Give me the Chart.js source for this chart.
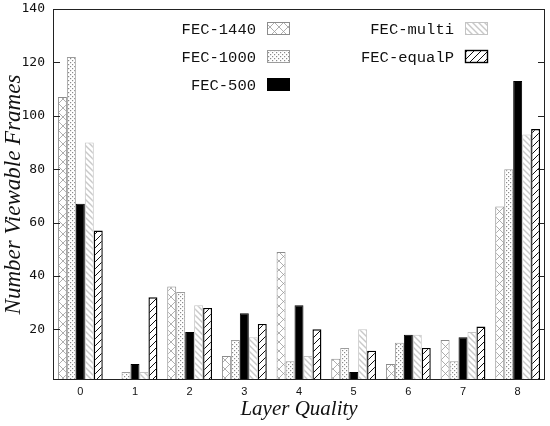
<!DOCTYPE html>
<html>
<head>
<meta charset="utf-8">
<script src="https://cdn.jsdelivr.net/npm/chart.js@4/dist/chart.umd.min.js"></script>
<style>
  html, body { margin: 0; padding: 0; background: #fff; }
  #wrap { width: 550px; height: 426px; position: relative; }
</style>
</head>
<body>
<div id="wrap"><canvas id="grafico"></canvas></div>
<script>
// dados
const categorias = ['0', '1', '2', '3', '4', '5', '6', '7', '8'];
const series = ['FEC-1440', 'FEC-1000', 'FEC-500', 'FEC-multi', 'FEC-equalP'];
const fec1440 = [107, 0, 36, 10, 49, 9, 7, 16, 66];
const fec1000 = [122, 4, 34, 16, 8, 13, 15, 8, 80];
const fec500 = [67, 7, 19, 26, 29, 4, 18, 17, 113];
const fecMulti = [90, 4, 29, 17, 10, 20, 18, 19, 93];
const fecEqualP = [57, 32, 28, 22, 20, 12, 13, 21, 95];
const yTicks = [20, 40, 60, 80, 100, 120, 140];

function padrao(tam, desenhar) {
  const c = document.createElement('canvas');
  c.width = c.height = tam;
  const g = c.getContext('2d');
  g.fillStyle = '#fff';
  g.fillRect(0, 0, tam, tam);
  desenhar(g, tam);
  return g.createPattern(c, 'repeat');
}

const pCruzado = padrao(9, (g, t) => {
  g.strokeStyle = '#9a9a9a'; g.lineWidth = 0.8;
  g.beginPath();
  g.moveTo(0, 0); g.lineTo(t, t);
  g.moveTo(t, 0); g.lineTo(0, t);
  g.stroke();
});
const pPontos = padrao(4, (g) => {
  g.fillStyle = '#8a8a8a';
  g.fillRect(0, 0, 1.2, 1.2);
  g.fillRect(2, 2, 1.2, 1.2);
});
const pContra = padrao(6, (g, t) => {
  g.strokeStyle = '#c8c8c8'; g.lineWidth = 1.4;
  g.beginPath();
  g.moveTo(0, 0); g.lineTo(t, t);
  g.moveTo(-1, t - 1); g.lineTo(1, t + 1);
  g.moveTo(t - 1, -1); g.lineTo(t + 1, 1);
  g.stroke();
});
const pBarra = padrao(7, (g, t) => {
  g.strokeStyle = '#111'; g.lineWidth = 1;
  g.beginPath();
  g.moveTo(0, t); g.lineTo(t, 0);
  g.moveTo(-1, 1); g.lineTo(1, -1);
  g.moveTo(t - 1, t + 1); g.lineTo(t + 1, t - 1);
  g.stroke();
});

const estilos = [
  { bg: pCruzado, borda: '#8c8c8c', larg: 1 },
  { bg: pPontos, borda: '#9c9c9c', larg: 1 },
  { bg: '#000', borda: '#000', larg: 1 },
  { bg: pContra, borda: '#c4c4c4', larg: 1 },
  { bg: pBarra, borda: '#000', larg: 1.4 }
];
const valores = [fec1440, fec1000, fec500, fecMulti, fecEqualP];

const datasets = series.map((nome, i) => ({
  label: nome,
  data: valores[i],
  backgroundColor: estilos[i].bg,
  borderColor: estilos[i].borda,
  borderWidth: estilos[i].larg,
  categoryPercentage: 0.82,
  barPercentage: 1.0
}));

// moldura e ticks para dentro
const moldura = {
  id: 'moldura',
  afterDatasetsDraw(chart) {
    const { ctx, chartArea: a, scales } = chart;
    ctx.save();
    ctx.strokeStyle = '#222';
    ctx.lineWidth = 1;
    ctx.strokeRect(a.left + 0.5, a.top + 0.5, a.right - a.left - 1, a.bottom - a.top - 1);
    ctx.beginPath();
    yTicks.forEach(v => {
      const y = Math.round(scales.y.getPixelForValue(v)) + 0.5;
      ctx.moveTo(a.left, y); ctx.lineTo(a.left + 7, y);
      ctx.moveTo(a.right - 7, y); ctx.lineTo(a.right, y);
    });
    ctx.stroke();
    ctx.restore();
  }
};

// legenda em duas colunas, texto a esquerda da amostra
const legenda = {
  id: 'legenda',
  afterDraw(chart) {
    const { ctx } = chart;
    const pos = [
      { x: 267, y: 29 }, { x: 267, y: 57 }, { x: 267, y: 85 },
      { x: 465, y: 29 }, { x: 465, y: 57 }
    ];
    ctx.save();
    ctx.font = '15.5px "Liberation Mono", "Courier New", monospace';
    ctx.textAlign = 'right';
    ctx.textBaseline = 'middle';
    chart.data.datasets.forEach((d, i) => {
      const p = pos[i];
      ctx.fillStyle = '#111';
      ctx.fillText(d.label, p.x - 11, p.y + 1);
      ctx.fillStyle = d.backgroundColor;
      ctx.fillRect(p.x, p.y - 7, 23, 13);
      ctx.strokeStyle = d.borderColor;
      ctx.lineWidth = d.borderWidth;
      ctx.strokeRect(p.x + 0.5, p.y - 6.5, 22, 12);
    });
    ctx.restore();
  }
};

new Chart(document.getElementById('grafico'), {
  type: 'bar',
  data: { labels: categorias, datasets },
  plugins: [moldura, legenda],
  options: {
    responsive: true,
    maintainAspectRatio: false,
    animation: false,
    layout: { padding: { top: 9, right: 5, left: 0, bottom: 0 } },
    plugins: {
      legend: { display: false },
      tooltip: { enabled: false }
    },
    scales: {
      x: {
        offset: true,
        grid: { display: false, drawTicks: false },
        border: { display: false },
        ticks: {
          padding: 5,
          color: '#111',
          font: { family: '"Liberation Sans", Arial, sans-serif', size: 11 }
        },
        title: {
          display: true,
          text: 'Layer Quality',
          color: '#111',
          padding: { top: 0, bottom: 4 },
          font: { family: '"Liberation Serif", "Times New Roman", serif', style: 'italic', size: 21 }
        },
        afterFit: s => { s.height = 46; }
      },
      y: {
        min: 1,
        max: 140,
        grid: { display: false, drawTicks: false },
        border: { display: false },
        afterBuildTicks: s => { s.ticks = yTicks.map(v => ({ value: v })); },
        ticks: {
          padding: 8,
          color: '#111',
          font: { family: '"DejaVu Sans Mono", monospace', size: 13 }
        },
        title: {
          display: true,
          text: 'Number Viewable Frames',
          color: '#111',
          padding: { top: 0, bottom: 0 },
          font: { family: '"Liberation Serif", "Times New Roman", serif', style: 'italic', size: 23 }
        },
        afterFit: s => { s.width = 53; s.paddingTop = 0; s.paddingBottom = 0; }
      }
    }
  }
});
</script>
</body>
</html>
